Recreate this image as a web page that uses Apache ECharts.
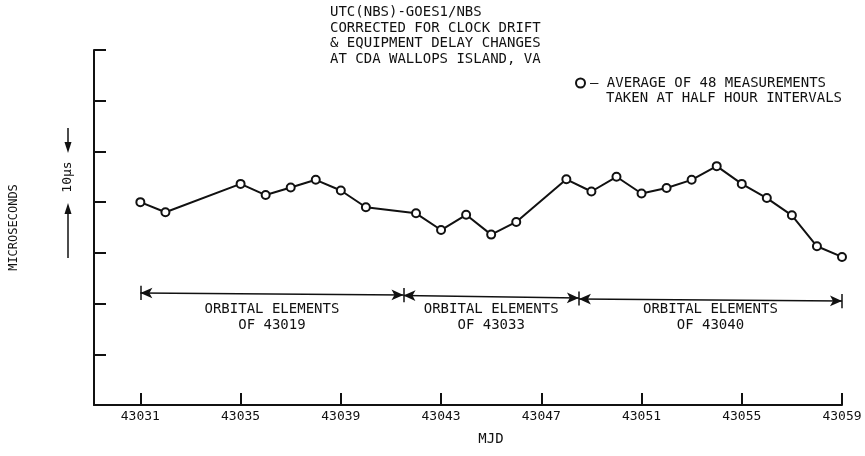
<!DOCTYPE html>
<html><head><meta charset="utf-8">
<script src="https://cdn.jsdelivr.net/npm/echarts@6/dist/echarts.min.js"></script>
<style>html,body{margin:0;padding:0;background:#fff}#c{width:865px;height:456px}</style>
</head><body><div id="c"></div>
<script>
// ---- data ----
const mjd = [43031,43032,43035,43036,43037,43038,43039,43040,43042,43043,43044,43045,43046,43048,43049,43050,43051,43052,43053,43054,43055,43056,43057,43058,43059];
const microseconds = [40.0,38.0,43.6,41.4,42.9,44.4,42.3,39.0,37.8,34.5,37.5,33.6,36.1,44.5,42.1,45.0,41.7,42.8,44.4,47.1,43.6,40.8,37.4,31.3,29.2];
const xTicks = [43031,43035,43039,43043,43047,43051,43055,43059];
const titleLines = ['UTC(NBS)-GOES1/NBS','CORRECTED FOR CLOCK DRIFT','& EQUIPMENT DELAY CHANGES','AT CDA WALLOPS ISLAND, VA'];
const legendLines = ['— AVERAGE OF 48 MEASUREMENTS','TAKEN AT HALF HOUR INTERVALS'];
const orbitalSpans = [[43031,43041.5],[43041.5,43048.5],[43048.5,43059]];
const orbitalLabels = ['ORBITAL ELEMENTS\nOF 43019','ORBITAL ELEMENTS\nOF 43033','ORBITAL ELEMENTS\nOF 43040'];
const scaleLabel = '10μs';

// ---- build ----
const FONT = 'DejaVu Sans Mono';
const K = '#111';
const arrowLevels = [[22.1,21.7],[21.6,21.1],[20.9,20.5]];
const markLines = [];
orbitalSpans.forEach((s,i)=>{
  const [y0,y1] = arrowLevels[i];
  markLines.push([{coord:[s[0],y0],symbol:'arrow'},{coord:[s[1],y1],symbol:'arrow'}]);
});
const bars = [[43031,22.1],[43041.5,21.65],[43048.5,21.0],[43059,20.5]];
bars.forEach(b=>{
  markLines.push([{coord:[b[0],b[1]+1.4],symbol:'none'},{coord:[b[0],b[1]-1.4],symbol:'none'}]);
});
const markPoints = orbitalSpans.map((s,i)=>({coord:[(s[0]+s[1])/2,17.3],name:orbitalLabels[i]}));

const chart = echarts.init(document.getElementById('c'),null,{renderer:'canvas'});
chart.setOption({
  animation:false,
  backgroundColor:'#fff',
  title:{text:titleLines.join('\n'),left:330,top:5,padding:0,
    textStyle:{fontFamily:FONT,fontSize:14,fontWeight:'normal',color:K,lineHeight:15.5}},
  legend:{data:[{name:legendLines[0],icon:'circle'}],left:575,top:76,padding:0,itemWidth:9,itemHeight:9,
    selectedMode:false,textStyle:{fontFamily:FONT,fontSize:14,color:K}},
  grid:{left:93,right:23,top:50,bottom:51},
  xAxis:{type:'value',min:43029.15,max:43059,
    name:'MJD',nameLocation:'middle',nameGap:27,
    nameTextStyle:{fontFamily:FONT,fontSize:14,color:K,padding:[0,0,0,46]},
    axisLine:{lineStyle:{color:K,width:2}},
    axisTick:{inside:true,length:12,customValues:xTicks,lineStyle:{color:K,width:2}},
    axisLabel:{customValues:xTicks,formatter:v=>String(v),fontFamily:FONT,fontSize:13,color:K,margin:5},
    splitLine:{show:false}},
  yAxis:{type:'value',min:0,max:70,interval:10,
    name:'MICROSECONDS',nameLocation:'middle',nameGap:74,nameRotate:90,
    nameTextStyle:{fontFamily:FONT,fontSize:12,color:K},
    axisLine:{show:true,lineStyle:{color:K,width:2}},
    axisTick:{show:true,inside:true,length:12,lineStyle:{color:K,width:2}},
    axisLabel:{show:false},splitLine:{show:false}},
  series:[{
    name:legendLines[0],type:'line',
    data:mjd.map((m,i)=>[m,microseconds[i]]),
    symbol:'circle',symbolSize:8,
    itemStyle:{color:'#fff',borderColor:K,borderWidth:2},
    lineStyle:{color:K,width:2},
    emphasis:{disabled:true},
    markLine:{silent:true,symbolSize:[8,12],label:{show:false},
      lineStyle:{color:K,width:1.5,type:'solid'},emphasis:{disabled:true},data:markLines},
    markPoint:{silent:true,symbol:'rect',symbolSize:1,itemStyle:{color:'rgba(0,0,0,0)'},
      label:{show:true,position:'inside',formatter:p=>p.name,fontFamily:FONT,fontSize:14,color:K,lineHeight:16.5},
      data:markPoints}
  }],
  graphic:[
    {type:'text',left:606,top:91,style:{text:legendLines[1],font:'14px "DejaVu Sans Mono"',fill:K}},
    // scale indicator
    {type:'line',shape:{x1:68,y1:128,x2:68,y2:144},style:{stroke:K,lineWidth:1.5}},
    {type:'polygon',shape:{points:[[64.5,142],[71.5,142],[68,153]]},style:{fill:K}},
    {type:'text',x:68,y:177,rotation:Math.PI/2,style:{text:scaleLabel,font:'13px "DejaVu Sans Mono"',fill:K,align:'center',verticalAlign:'middle'}},
    {type:'polygon',shape:{points:[[64.5,214],[71.5,214],[68,203]]},style:{fill:K}},
    {type:'line',shape:{x1:68,y1:212,x2:68,y2:258},style:{stroke:K,lineWidth:1.5}}
  ]
});
</script></body></html>
